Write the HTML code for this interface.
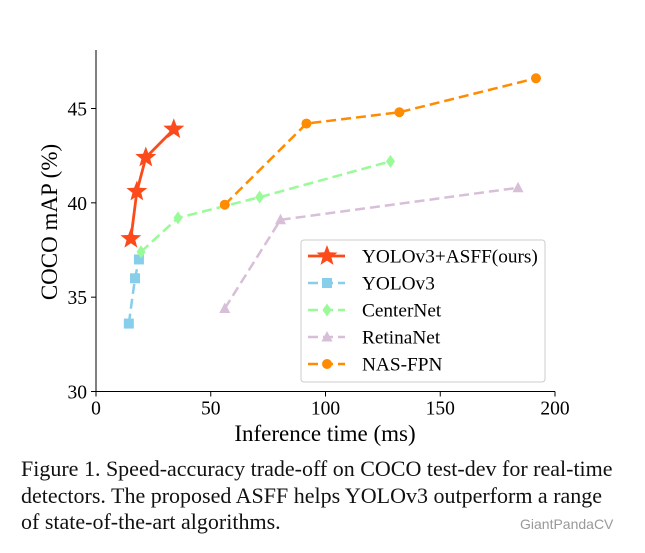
<!DOCTYPE html>
<html><head><meta charset="utf-8">
<style>
html,body{margin:0;padding:0;background:#fff;}
body{width:645px;height:553px;position:relative;overflow:hidden;font-family:"Liberation Serif",serif;}
#cap{position:absolute;left:21px;top:456px;font-size:22px;line-height:26.5px;color:#111;white-space:nowrap;}
#wm{position:absolute;left:520px;top:516px;font-family:"Liberation Sans",sans-serif;font-size:14px;color:#999;}
</style></head>
<body>
<svg id="chart" width="645" height="450" style="position:absolute;left:0;top:0" font-family="Liberation Serif, serif"></svg>
<div id="cap">Figure 1. Speed-accuracy trade-off on COCO test-dev for real-time<br>detectors. The proposed ASFF helps YOLOv3 outperform a range<br>of state-of-the-art algorithms.</div>
<div id="wm">GiantPandaCV</div>
<script>
const xTicks=[0,50,100,150,200];
const yTicks=[30,35,40,45];
const seriesNames=["YOLOv3+ASFF(ours)","YOLOv3","CenterNet","RetinaNet","NAS-FPN"];
const asffX=[15.2,17.8,21.7,33.9];
const asffY=[38.1,40.6,42.4,43.9];
const yoloX=[14.3,17,18.7];
const yoloY=[33.6,36.0,37.0];
const centerX=[19.6,35.7,71.3,128.3];
const centerY=[37.4,39.2,40.3,42.2];
const retinaX=[56.1,80.4,183.9];
const retinaY=[34.4,39.1,40.8];
const nasX=[56.1,91.7,132.2,191.7];
const nasY=[39.9,44.2,44.8,46.6];

const NS="http://www.w3.org/2000/svg";
const svg=document.getElementById('chart');
const X0=96,X1=555,Y0=391.5,Y1=50;
const sx=v=>X0+(v-0)/200*(X1-X0);
const sy=v=>Y0-(v-30)/(48.1-30)*(Y0-Y1);
function mk(tag,attrs,parent){const e=document.createElementNS(NS,tag);for(const k in attrs)e.setAttribute(k,attrs[k]);(parent||svg).appendChild(e);return e;}

let a=mk('line',{x1:X0,y1:Y1,x2:X0,y2:Y0,stroke:'#000','stroke-width':1});


a=mk('line',{x1:X0,y1:Y0,x2:X1,y2:Y0,stroke:'#000','stroke-width':1});


xTicks.forEach(t=>{
  mk('line',{x1:sx(t),y1:Y0,x2:sx(t),y2:Y0+5,stroke:'#000'});
  const e=mk('text',{x:sx(t),y:Y0+23,'text-anchor':'middle','font-size':19.5,fill:'#000'});e.textContent=t;
  
  
});
yTicks.forEach(t=>{
  mk('line',{x1:X0-5,y1:sy(t),x2:X0,y2:sy(t),stroke:'#000'});
  const e=mk('text',{x:X0-9,y:sy(t)+7,'text-anchor':'end','font-size':19.5,fill:'#000'});e.textContent=t;
  
  
});
let t=mk('text',{x:325,y:441,'text-anchor':'middle','font-size':23,fill:'#000'});t.textContent='Inference time (ms)';


t=mk('text',{x:0,y:0,'text-anchor':'middle','font-size':23,fill:'#000',transform:'translate(57,222) rotate(-90)'});t.textContent='COCO mAP (%)';



function marker(type,x,y,color,g){
  if(type==='star'){
    let p=[];for(let i=0;i<10;i++){const r=i%2?4.6:11;const an=-Math.PI/2+i*Math.PI/5;p.push((x+r*Math.cos(an)).toFixed(1)+','+(y+r*Math.sin(an)).toFixed(1));}
    return mk('polygon',{points:p.join(' '),fill:color},g);
  }
  if(type==='sq')return mk('rect',{x:x-5,y:y-5,width:10,height:10,fill:color},g);
  if(type==='dia')return mk('polygon',{points:`${x},${y-6.5} ${x+4.5},${y} ${x},${y+6.5} ${x-4.5},${y}`,fill:color},g);
  if(type==='tri')return mk('polygon',{points:`${x},${y-6} ${x+5.5},${y+4.5} ${x-5.5},${y+4.5}`,fill:color},g);
  return mk('circle',{cx:x,cy:y,r:5,fill:color},g);
}
const series=[
 {xs:asffX,ys:asffY,color:'#fc4a1a',type:'star',dash:null,w:2.8,name:'series-asff'},
 {xs:yoloX,ys:yoloY,color:'#87ceeb',type:'sq',dash:'10,5',w:2.5,name:'series-yolov3'},
 {xs:centerX,ys:centerY,color:'#98fb98',type:'dia',dash:'10,5',w:2.5,name:'series-centernet'},
 {xs:retinaX,ys:retinaY,color:'#d8bfd8',type:'tri',dash:'10,5',w:2.5,name:'series-retinanet'},
 {xs:nasX,ys:nasY,color:'#ff8c00',type:'circ',dash:'10,5',w:2.5,name:'series-nasfpn'}
];
series.forEach(s=>{
  const g=mk('g',{});
  
  
  const pts=s.xs.map((x,i)=>sx(x)+','+sy(s.ys[i])).join(' ');
  const l=mk('polyline',{points:pts,fill:'none',stroke:s.color,'stroke-width':s.w},g);
  if(s.dash)l.setAttribute('stroke-dasharray',s.dash);
  s.xs.forEach((x,i)=>{const m=marker(s.type,sx(x),sy(s.ys[i]),s.color,g);
    
    });
});
const lg=mk('g',{});


mk('rect',{x:301,y:240,width:244,height:142,rx:3,fill:'#fff',stroke:'#ccc','stroke-width':1},lg);
series.forEach((s,i)=>{
  const y=256+i*27;
  const e=mk('g',{},lg);
  
  
  const l=mk('line',{x1:308,y1:y,x2:345,y2:y,stroke:s.color,'stroke-width':s.w},e);
  if(s.dash)l.setAttribute('stroke-dasharray',s.dash);
  marker(s.type,327,y,s.color,e);
  const tx=mk('text',{x:362,y:y+6.5,'font-size':19.3,fill:'#000'},e);tx.textContent=seriesNames[i];
});
</script>
</body></html>
